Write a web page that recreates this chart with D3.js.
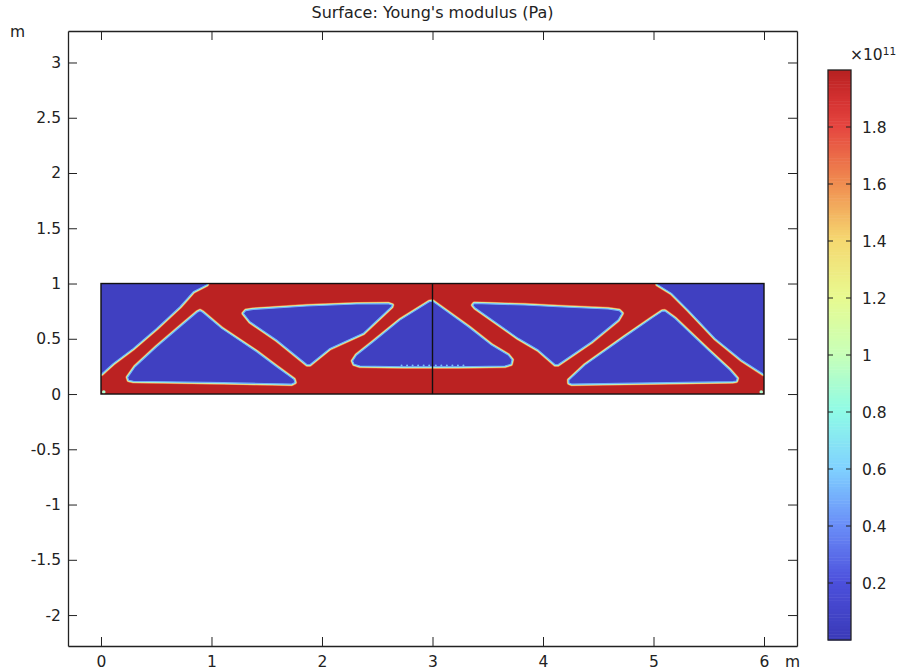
<!DOCTYPE html>
<html>
<head>
<meta charset="utf-8">
<script src="https://cdn.jsdelivr.net/npm/d3@7"></script>
<style>
  body { margin: 0; background: #fff; }
  text { font-family: "DejaVu Sans", sans-serif; fill: #222; }
  .tick text { font-family: "DejaVu Sans", sans-serif; font-size: 15.5px; fill: #222; }
  .tick line, .domain { stroke: #222; }
</style>
</head>
<body>
<div id="chart"></div>
<script>
const xTicks = [0, 1, 2, 3, 4, 5, 6];
const yTicks = [-2, -1.5, -1, -0.5, 0, 0.5, 1, 1.5, 2, 2.5, 3];
const colorbarTicks = [0.2, 0.4, 0.6, 0.8, 1, 1.2, 1.4, 1.6, 1.8];

// young's modulus colour table, in units of 1e11 Pa
const modulusStops = [0, 0.2, 0.4, 0.6, 0.8, 1, 1.2, 1.4, 1.6, 1.8, 1.9, 2];
const modulusColors = ["#3a3ab8", "#4c50dc", "#6a8ef8", "#80d2ff", "#8ffbe6", "#c8ffb8",
    "#e8fa90", "#f5d870", "#f08c50", "#e5453f", "#d23030", "#b52020"];
const solidValue = 1.98;
const voidValue = 0.05;
const edgeValues = [1.75, 1.5, 1.1, 0.8];

const beamBounds = [[0, 0], [6, 1]];

// void regions of the topology result, metres
const voidLeftCorner = [[-0.1, 1.1], [0.97, 1.1], [0.96, 0.99], [0.835, 0.925], [0.715, 0.79], [0.504, 0.594],
    [0.293, 0.413], [0.112, 0.277], [0.006, 0.181], [-0.1, 0.17]];
const voidLeftTriangle = [[0.896, 0.754], [0.92, 0.74], [1.092, 0.594], [1.408, 0.383], [1.589, 0.247], [1.746, 0.133],
    [1.755, 0.105], [1.725, 0.09], [1.107, 0.103], [0.293, 0.115], [0.25, 0.125], [0.241, 0.151], [0.308, 0.247], [0.504, 0.428], [0.715, 0.609], [0.87, 0.74]];
const voidLeftTrapezoid = [[1.288, 0.73], [1.31, 0.755], [1.378, 0.766], [1.861, 0.796], [2.313, 0.814], [2.6, 0.817],
    [2.635, 0.805], [2.63, 0.79], [2.373, 0.549], [2.072, 0.413], [1.89, 0.265], [1.865, 0.265], [1.589, 0.489], [1.348, 0.654]];
const voidCenter = [[3, 0.841], [3.323, 0.609], [3.534, 0.443], [3.685, 0.353], [3.72, 0.31], [3.71, 0.27], [3.655, 0.253],
    [3.233, 0.247], [2.75, 0.247], [2.343, 0.253], [2.29, 0.27], [2.277, 0.3], [2.313, 0.353], [2.464, 0.473], [2.705, 0.669], [2.97, 0.835]];
const voidRightTrapezoid = [[3.378, 0.82], [3.836, 0.805], [4.138, 0.79], [4.59, 0.769], [4.69, 0.755], [4.715, 0.73],
    [4.68, 0.67], [4.44, 0.473], [4.135, 0.265], [4.11, 0.265], [3.957, 0.398], [3.776, 0.504], [3.384, 0.781], [3.365, 0.805]];
const voidRightTriangle = [[5.103, 0.751], [5.193, 0.685], [5.495, 0.398], [5.691, 0.217], [5.757, 0.142],
    [5.75, 0.118], [5.72, 0.112], [4.258, 0.09], [4.235, 0.1], [4.234, 0.127], [4.379, 0.262], [4.741, 0.519], [4.982, 0.685], [5.08, 0.75]];
const voidRightCorner = [[5.02, 1.1], [5.033, 0.992], [5.163, 0.911], [5.314, 0.76], [5.556, 0.504],
    [5.796, 0.308], [5.992, 0.181], [6.1, 0.17], [6.1, 1.1]];
const cornerSpots = [[0.025, 0.018], [5.975, 0.018]];
const seamBeads = [2.72, 2.77, 2.82, 2.87, 2.92, 2.97, 3.03, 3.08, 3.13, 3.18, 3.23, 3.28];
const seamBeadY = 0.25;

const voidRegions = [voidLeftCorner, voidLeftTriangle, voidLeftTrapezoid, voidCenter,
    voidRightTrapezoid, voidRightTriangle, voidRightCorner];

const totalWidth = 898, totalHeight = 672;
const plot = { left: 68, right: 797, top: 31, bottom: 646 };
const bar = { left: 828, right: 851, top: 70, bottom: 640 };
const tickLength = 9;

const svg = d3.select("#chart").append("svg")
    .attr("width", totalWidth)
    .attr("height", totalHeight)
    .style("display", "block");

const x = d3.scaleLinear().domain([-0.2986, 6.2986]).range([plot.left, plot.right]);
const y = d3.scaleLinear().domain([3.285, -2.28]).range([plot.top, plot.bottom]);
const modulusColor = d3.scaleLinear().domain(modulusStops).range(modulusColors).clamp(true);
const barScale = d3.scaleLinear().domain([0, 2]).range([bar.bottom, bar.top]);

const defs = svg.append("defs");
const beamX = x(beamBounds[0][0]), beamY = y(beamBounds[1][1]);
const beamW = x(beamBounds[1][0]) - beamX, beamH = y(beamBounds[0][1]) - beamY;

defs.append("clipPath").attr("id", "beam-clip").append("rect")
    .attr("x", beamX).attr("y", beamY).attr("width", beamW).attr("height", beamH);
defs.append("filter").attr("id", "soften")
    .attr("x", "-2%").attr("y", "-5%").attr("width", "104%").attr("height", "110%")
    .append("feGaussianBlur").attr("stdDeviation", 0.55);

const voidPath = d3.line().x(d => x(d[0])).y(d => y(d[1])).curve(d3.curveLinearClosed);

const field = svg.append("g").attr("clip-path", "url(#beam-clip)").append("g").attr("filter", "url(#soften)");

field.append("rect")
    .attr("x", beamX).attr("y", beamY).attr("width", beamW).attr("height", beamH)
    .attr("fill", modulusColor(solidValue));

// colour bands around each void, widest (closest to solid) first
edgeValues.forEach((v, i) => {
    field.selectAll(null)
        .data(voidRegions)
        .enter().append("path")
        .attr("d", voidPath)
        .attr("fill", "none")
        .attr("stroke", modulusColor(v))
        .attr("stroke-width", 4.4 - i * 0.9)
        .attr("stroke-linejoin", "round");
});

field.selectAll(".void")
    .data(voidRegions)
    .enter().append("path")
    .attr("class", "void")
    .attr("d", voidPath)
    .attr("fill", modulusColor(voidValue))
    .attr("stroke", modulusColor(0.5))
    .attr("stroke-width", 1.1)
    .attr("stroke-linejoin", "round");

field.selectAll(".bead")
    .data(seamBeads)
    .enter().append("circle")
    .attr("class", "bead")
    .attr("cx", d => x(d))
    .attr("cy", y(seamBeadY) - 1)
    .attr("r", 1)
    .attr("fill", modulusColor(0.55));

field.selectAll(".spot")
    .data(cornerSpots)
    .enter().append("circle")
    .attr("class", "spot")
    .attr("cx", d => x(d[0]))
    .attr("cy", d => y(d[1]))
    .attr("r", 1.8)
    .attr("fill", modulusColor(0.9));

// geometry edges
svg.append("rect")
    .attr("x", beamX).attr("y", beamY).attr("width", beamW).attr("height", beamH)
    .attr("fill", "none").attr("stroke", "#111").attr("stroke-width", 1.4);
svg.append("line")
    .attr("x1", x(3)).attr("x2", x(3))
    .attr("y1", y(0)).attr("y2", y(1))
    .attr("stroke", "#111").attr("stroke-width", 1.4);

// axes, ticks point inward on all four sides
svg.append("g")
    .attr("transform", `translate(0,${plot.bottom})`)
    .call(d3.axisBottom(x).tickValues(xTicks).tickFormat(d => String(d)).tickSizeInner(-tickLength).tickSizeOuter(0).tickPadding(10));
svg.append("g")
    .attr("transform", `translate(0,${plot.top})`)
    .call(d3.axisTop(x).tickValues(xTicks).tickFormat("").tickSizeInner(-tickLength).tickSizeOuter(0));
svg.append("g")
    .attr("transform", `translate(${plot.left},0)`)
    .call(d3.axisLeft(y).tickValues(yTicks).tickFormat(d => String(d)).tickSizeInner(-tickLength).tickSizeOuter(0).tickPadding(7));
svg.append("g")
    .attr("transform", `translate(${plot.right},0)`)
    .call(d3.axisRight(y).tickValues(yTicks).tickFormat("").tickSizeInner(-tickLength).tickSizeOuter(0));

svg.selectAll(".domain").attr("stroke-width", 1.3);

svg.append("text")
    .attr("x", (plot.left + plot.right) / 2)
    .attr("y", 18)
    .attr("text-anchor", "middle")
    .style("font-size", "16px")
    .text("Surface: Young's modulus (Pa)");
svg.append("text").attr("x", 10).attr("y", 37).style("font-size", "15.5px").text("m");
svg.append("text").attr("x", 785).attr("y", 667).style("font-size", "15.5px").text("m");

// colour bar
const barSteps = d3.range(0, 2, 0.01);
const barCell = Math.abs(barScale(0.01) - barScale(0));
svg.append("g").selectAll("rect")
    .data(barSteps)
    .enter().append("rect")
    .attr("x", bar.left)
    .attr("y", d => barScale(d) - barCell)
    .attr("width", bar.right - bar.left)
    .attr("height", barCell + 0.5)
    .attr("fill", d => modulusColor(d));
svg.append("rect")
    .attr("x", bar.left).attr("y", bar.top)
    .attr("width", bar.right - bar.left).attr("height", bar.bottom - bar.top)
    .attr("fill", "none").attr("stroke", "#222").attr("stroke-width", 1.3);

const barTicks = svg.append("g").selectAll("g")
    .data(colorbarTicks)
    .enter().append("g")
    .attr("transform", d => `translate(0,${barScale(d)})`);
barTicks.append("line").attr("x1", bar.left).attr("x2", bar.left + 5).attr("stroke", "#222");
barTicks.append("line").attr("x1", bar.right - 5).attr("x2", bar.right).attr("stroke", "#222");
barTicks.append("text")
    .attr("x", 862)
    .attr("dy", "0.36em")
    .style("font-size", "15.5px")
    .text(d => String(d));

const exponent = svg.append("text").attr("x", 850).attr("y", 60).style("font-size", "15.5px");
exponent.append("tspan").text("×10");
exponent.append("tspan").attr("dy", -5).style("font-size", "10.5px").text("11");
</script>
</body>
</html>
